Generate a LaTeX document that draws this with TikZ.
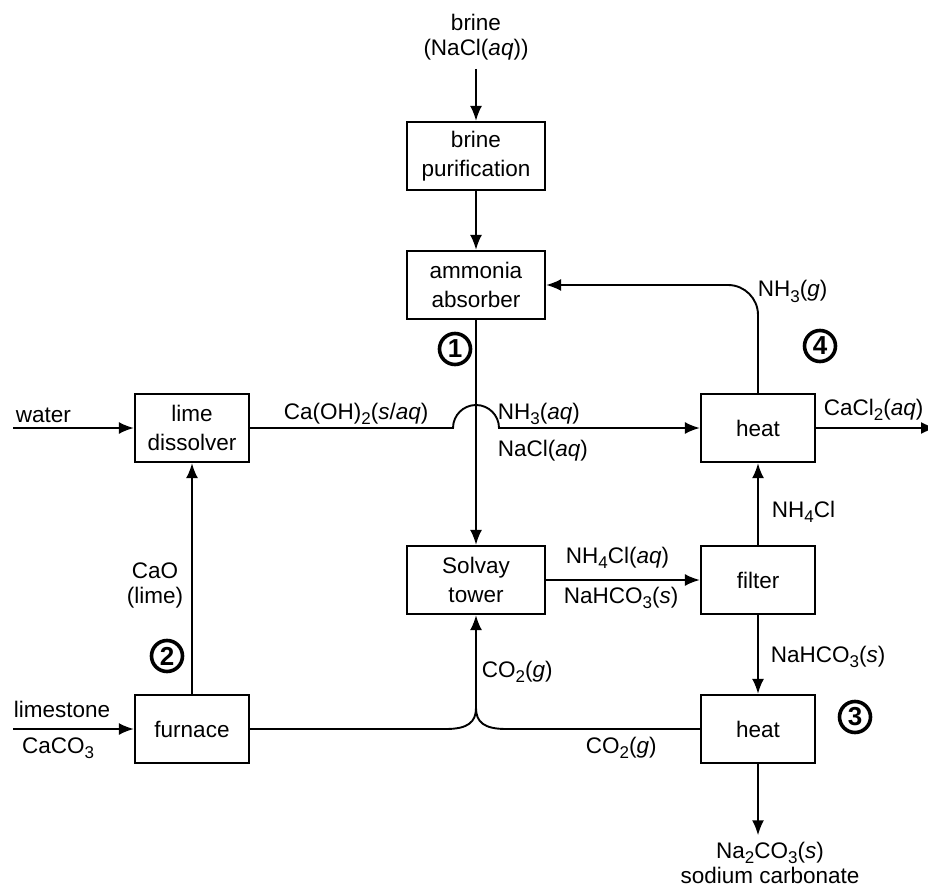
\documentclass[tikz,border=0pt]{standalone}
\usepackage{fontspec}
\setmainfont{Liberation Sans}
\usetikzlibrary{positioning,arrows.meta}

\newcommand{\chsub}[1]{\raisebox{-0.45ex}{\fontsize{17}{17}\selectfont #1}}

\begin{document}
\begin{tikzpicture}[
    x=1pt, y=-1pt,
    >={Latex[length=15pt,width=12pt]},
    line width=1.9pt,
    font=\fontsize{22.5}{28.5}\selectfont,
    box/.style={
        rectangle,
        draw,
        line width=2.3pt,
        minimum width=114pt,
        minimum height=68pt,
        align=center
    },
    widebox/.style={box, minimum width=138pt},
    lbl/.style={inner sep=0pt, align=center, font=\fontsize{22.5}{25}\selectfont},
    numcirc/.style={
        circle,
        draw,
        line width=3.6pt,
        minimum size=31pt,
        inner sep=0pt,
        font=\fontsize{26}{26}\selectfont\bfseries
    }
]
\useasboundingbox (0,0) rectangle (928,890);

% process units
\node[widebox] (purif) at (476,156) {brine\\purification};
\node[widebox] (absorb) at (476,285) {ammonia\\absorber};
\node[widebox] (solvay) at (476,580) {Solvay\\tower};
\node[box] (dissolve) at (192,428) {lime\\dissolver};
\node[box] (furnace) at (192,729) {furnace};
\node[box] (heatA) at (758,428) {heat};
\node[box] (filter) at (758,580) {filter};
\node[box] (heatB) at (758,729) {heat};

% feeds and product
\node[lbl] (brine) at (476,37) {brine\\(NaCl(\textit{aq}))};
\node[lbl] (soda) at (770,863) {Na\chsub{2}CO\chsub{3}(\textit{s})\\sodium carbonate};
\coordinate (waterin) at (13,428);
\coordinate (stonein) at (13,729);
\coordinate (caclout) at (936,428);
\coordinate (hopL) at (453,428);
\coordinate (merge) at (476,708);
\coordinate (mergeL) at (446,729);
\coordinate (mergeR) at (506,729);

% streams
\draw[->, shorten <=8pt] (brine) -- (purif);
\draw[->] (purif) -- (absorb);
\draw[->] (absorb) -- (solvay);
\draw[->] (waterin) -- (dissolve);
\draw[->] (stonein) -- (furnace);
\draw[->] (furnace) -- (dissolve);
\draw[->] (dissolve) -- (hopL) arc[start angle=180, end angle=0, radius=23pt] -- (heatA);
\draw[->] (heatA) -- (caclout);
\draw[->, rounded corners=30pt] (heatA) |- (absorb);
\draw[->] (solvay) -- (filter);
\draw[->] (filter) -- (heatA);
\draw[->] (filter) -- (heatB);
\draw[->, shorten >=6pt] (heatB) -- (heatB.south |- soda.north);
\draw (furnace) -- (mergeL) .. controls (468,729) and (476,722) .. (merge);
\draw (heatB) -- (mergeR) .. controls (484,729) and (476,722) .. (merge);
\draw[->] (merge) -- (solvay);

% stream labels
\node[lbl, anchor=base west] (water) at (15,422) {water};
\node[lbl, anchor=base west] (limestone) at (13,717) {limestone};
\node[lbl, anchor=base] (caco) at (58,753) {CaCO\chsub{3}};
\node[lbl] (lime) at (155,585) {CaO\\(lime)};
\node[lbl, anchor=base west] (caoh) at (283,419) {Ca(OH)\chsub{2}(\textit{s}/\textit{aq})};
\node[lbl, anchor=base west] (nhaq) at (497,419) {NH\chsub{3}(\textit{aq})};
\node[lbl, anchor=base west] (naclaq) at (497,456) {NaCl(\textit{aq})};
\node[lbl, anchor=base west] (nhg) at (757,297) {NH\chsub{3}(\textit{g})};
\node[lbl, anchor=base west] (cacl) at (823,415) {CaCl\chsub{2}(\textit{aq})};
\node[lbl, anchor=base west] (nhcl) at (771,517) {NH\chsub{4}Cl};
\node[lbl, anchor=base west] (nhclaq) at (565,563) {NH\chsub{4}Cl(\textit{aq})};
\node[lbl, anchor=base west] (bicarbA) at (563,603) {NaHCO\chsub{3}(\textit{s})};
\node[lbl, anchor=base west] (bicarbB) at (770,662) {NaHCO\chsub{3}(\textit{s})};
\node[lbl, anchor=base west] (coA) at (481,677) {CO\chsub{2}(\textit{g})};
\node[lbl, anchor=base west] (coB) at (585,753) {CO\chsub{2}(\textit{g})};

% step numbers
\node[numcirc] (one) at (455,349) {1};
\node[numcirc] (two) at (167,656) {2};
\node[numcirc] (three) at (855,717) {3};
\node[numcirc] (four) at (820,346) {4};

\end{tikzpicture}
\end{document}
